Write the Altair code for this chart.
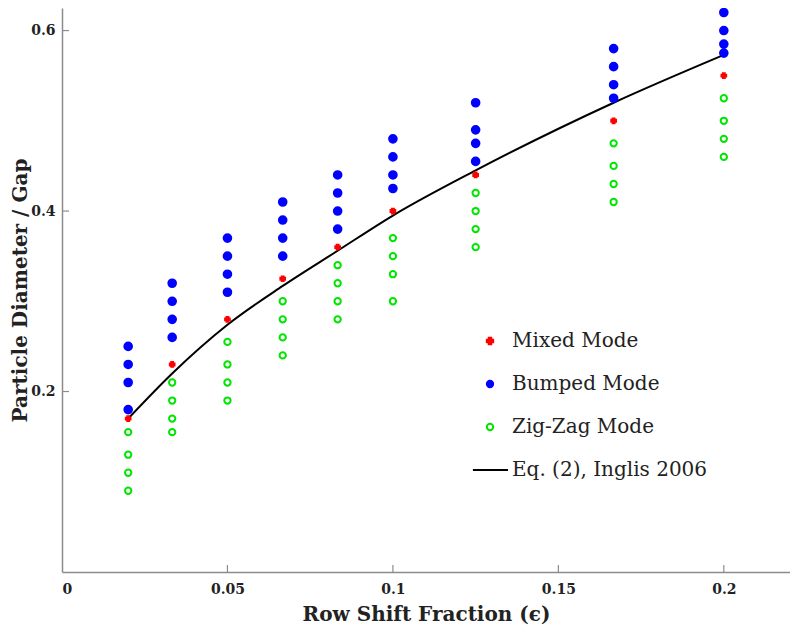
import altair as alt
import pandas as pd

# ---- data ----
eps = [0.02, 0.0333, 0.05, 0.0667, 0.0833, 0.1, 0.125, 0.1667, 0.2]

bumped = [
    [0.25, 0.23, 0.21, 0.18],
    [0.32, 0.30, 0.28, 0.26],
    [0.37, 0.35, 0.33, 0.31],
    [0.41, 0.39, 0.37, 0.35],
    [0.44, 0.42, 0.40, 0.38],
    [0.48, 0.46, 0.44, 0.425],
    [0.52, 0.49, 0.475, 0.455],
    [0.58, 0.56, 0.54, 0.525],
    [0.62, 0.60, 0.585, 0.575],
]
mixed = [0.17, 0.23, 0.28, 0.325, 0.36, 0.40, 0.44, 0.50, 0.55]
zigzag = [
    [0.155, 0.13, 0.11, 0.09],
    [0.21, 0.19, 0.17, 0.155],
    [0.255, 0.23, 0.21, 0.19],
    [0.30, 0.28, 0.26, 0.24],
    [0.34, 0.32, 0.30, 0.28],
    [0.37, 0.35, 0.33, 0.30],
    [0.42, 0.40, 0.38, 0.36],
    [0.475, 0.45, 0.43, 0.41],
    [0.525, 0.50, 0.48, 0.46],
]
inglis = [0.17, 0.22, 0.274, 0.317, 0.356, 0.395, 0.445, 0.52, 0.573]

modes = ["Mixed Mode", "Bumped Mode", "Zig-Zag Mode", "Eq. (2), Inglis 2006"]
x_ticks = [0, 0.05, 0.1, 0.15, 0.2]
y_ticks = [0.2, 0.4, 0.6]

# ---- tables ----
rows = []
for i, e in enumerate(eps):
    for v in bumped[i]:
        rows.append({"eps": e, "val": v, "mode": "Bumped Mode"})
    for v in zigzag[i]:
        rows.append({"eps": e, "val": v, "mode": "Zig-Zag Mode"})
    rows.append({"eps": e, "val": mixed[i], "mode": "Mixed Mode"})
pts = pd.DataFrame(rows)
line_df = pd.DataFrame({"eps": eps, "val": inglis})
xt = pd.DataFrame({"t": x_ticks[1:]})
yt = pd.DataFrame({"t": y_ticks})

W, H = 728, 564
GREY = "#8c8c8c"

xs = alt.Scale(domain=[0, 0.22], nice=False, zero=False)
ys = alt.Scale(domain=[0, 0.625], nice=False, zero=False)

xaxis = alt.Axis(values=x_ticks, format="~g", ticks=False, grid=False, labelPadding=10,
                 title="Row Shift Fraction (\u03f5)", titlePadding=8)
yaxis = alt.Axis(values=y_ticks, format="~g", ticks=False, grid=False, labelPadding=7,
                 title="Particle Diameter / Gap", titlePadding=0)

# legend line sample: a horizontal stroke drawn as a symbol path
LINE_PATH = "M-5.4,0H5.7"

leg = alt.Legend(title=None, orient="none", legendX=418, legendY=323,
                 labelFont="DejaVu Serif", labelFontSize=20, labelColor="#222",
                 labelLimit=400, rowPadding=23, labelOffset=12, padding=0,
                 symbolSize=40, symbolStrokeWidth=2)

shape_s = alt.Scale(domain=modes, range=["cross", "circle", "circle", LINE_PATH])
stroke_s = alt.Scale(domain=modes, range=["#ff0000", "#0000ff", "#00e600", "#000000"])
fill_s = alt.Scale(domain=modes, range=["#ff0000", "#0000ff", "transparent", "transparent"])

line = alt.Chart(line_df).mark_line(color="black", strokeWidth=2,
                                     interpolate="monotone").encode(
    x=alt.X("eps:Q", scale=xs, axis=xaxis),
    y=alt.Y("val:Q", scale=ys, axis=yaxis),
)


def pt_layer(mode, size, sw):
    return alt.Chart(pts).transform_filter(alt.datum.mode == mode).mark_point(
        size=size, strokeWidth=sw, opacity=1).encode(
        x=alt.X("eps:Q", scale=xs),
        y=alt.Y("val:Q", scale=ys),
        shape=alt.Shape("mode:N", scale=shape_s, legend=leg),
        stroke=alt.Stroke("mode:N", scale=stroke_s, legend=leg),
        fill=alt.Fill("mode:N", scale=fill_s, legend=leg),
    )


bump_l = pt_layer("Bumped Mode", 58, 2)
zig_l = pt_layer("Zig-Zag Mode", 40, 2)
mix_l = pt_layer("Mixed Mode", 22, 2)

xtick = alt.Chart(xt).mark_rule(color=GREY, strokeWidth=1.2).encode(
    x=alt.X("t:Q", scale=xs), y=alt.value(H), y2=alt.value(H - 7))
ytick = alt.Chart(yt).mark_rule(color=GREY, strokeWidth=1.2).encode(
    y=alt.Y("t:Q", scale=ys), x=alt.value(0), x2=alt.value(7))

chart = alt.layer(line, bump_l, zig_l, mix_l, xtick, ytick).properties(
    width=W, height=H,
    autosize=alt.AutoSizeParams(type="none"),
    padding={"left": 54, "top": 0, "right": 0, "bottom": 60},
).configure_view(stroke=None).configure_axis(
    domainColor=GREY, domainWidth=1.5,
    labelFont="DejaVu Serif", labelFontWeight="bold", labelFontSize=14, labelColor="#222",
    titleFont="DejaVu Serif", titleFontWeight="bold", titleFontSize=20, titleColor="#222",
)

chart.save("out.html", embed_options={"renderer": "svg", "actions": False})
